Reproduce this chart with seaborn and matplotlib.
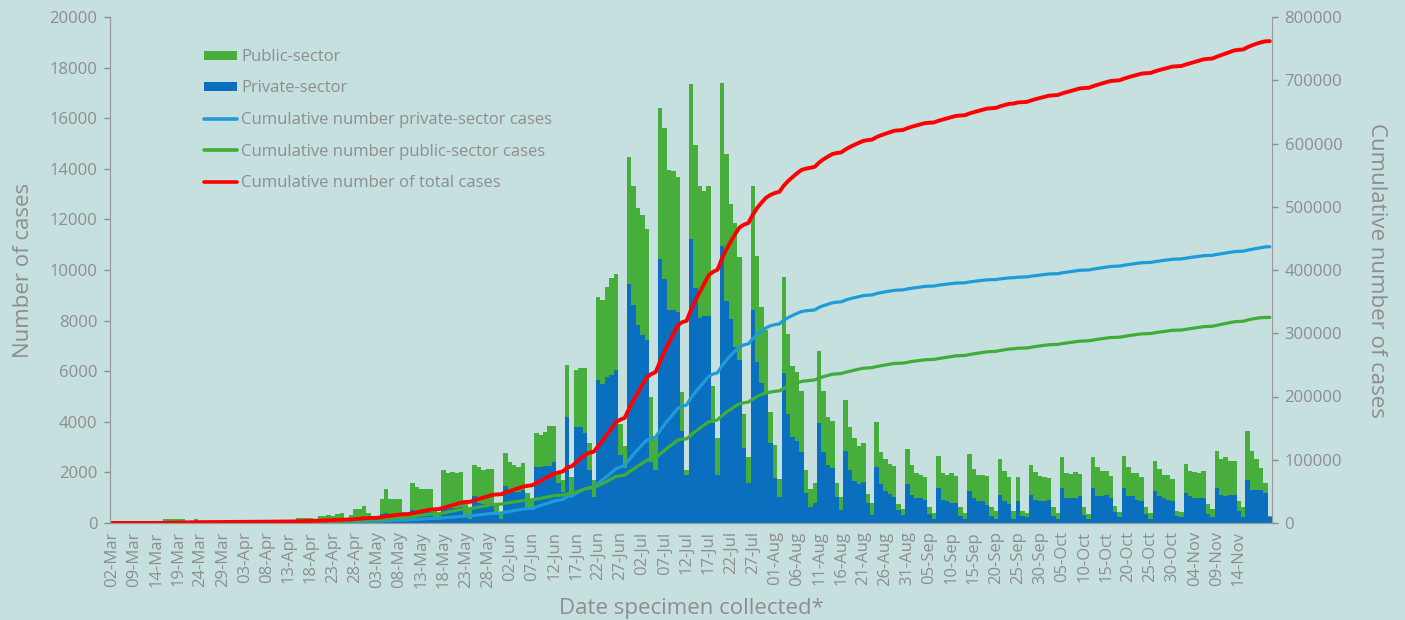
import numpy as np
import pandas as pd
import matplotlib.pyplot as plt
import seaborn as sns
from matplotlib.patches import Patch
from matplotlib.lines import Line2D
from datetime import date, timedelta

# specimen dates: 02-Mar, then a continuous run from 05-Mar
days = [date(2020, 3, 2)] + [date(2020, 3, 5) + timedelta(days=i) for i in range(262)]
date_labels = [d.strftime('%d-%b') for d in days]

# daily cases, private sector
private = [
    0, 0, 1, 1, 2, 3, 4,
    5, 8, 10, 12, 15, 60, 60,
    60, 60, 55, 30, 30, 60, 30,
    30, 10, 10, 8, 10, 30, 25,
    15, 20, 20, 20, 10, 15, 20,
    25, 25, 20, 25, 15, 20, 30,
    80, 85, 80, 75, 40, 100, 100,
    110, 100, 120, 100, 50, 80, 150,
    150, 200, 120, 60, 50, 350, 400,
    350, 350, 360, 150, 100, 500, 480,
    450, 450, 450, 200, 120, 650, 600,
    600, 600, 650, 300, 150, 1080, 800,
    750, 750, 800, 300, 150, 1470, 1240,
    1240, 1240, 1300, 600, 500, 2230, 2200,
    2260, 2260, 2420, 1600, 1230, 4170, 1200,
    3780, 3780, 3550, 2080, 1020, 5650, 5480,
    5780, 5840, 6040, 2700, 2170, 9450, 8600,
    7840, 7450, 7250, 2400, 2100, 10440, 9650,
    8420, 8400, 8350, 3650, 1900, 11230, 9300,
    8120, 8180, 8180, 3940, 1900, 10960, 8790,
    8070, 6970, 6450, 2950, 1570, 8420, 6380,
    5520, 5190, 3150, 1770, 1040, 5920, 4300,
    3380, 3250, 2790, 1190, 620, 800, 3970,
    2790, 2300, 2170, 1020, 510, 2850, 2100,
    1670, 1540, 1640, 780, 320, 2200, 1540,
    1270, 1140, 1040, 510, 320, 1560, 1120,
    980, 980, 900, 360, 150, 1380, 900,
    850, 790, 790, 290, 150, 1250, 980,
    850, 850, 720, 280, 150, 1120, 850,
    770, 150, 850, 280, 220, 1120, 900,
    850, 850, 900, 280, 150, 1380, 980,
    980, 980, 1050, 320, 150, 1380, 1050,
    1050, 1120, 980, 420, 220, 1380, 1050,
    1050, 900, 850, 360, 150, 1250, 1050,
    980, 900, 850, 280, 220, 1180, 1050,
    980, 980, 980, 360, 220, 1380, 1120,
    1050, 1120, 1120, 490, 220, 1710, 1310,
    1310, 1310, 1180, 220,
]

# daily cases, public sector
public = [
    0, 0, 1, 2, 3, 4, 6,
    7, 12, 15, 18, 25, 100, 100,
    105, 100, 95, 50, 50, 100, 50,
    50, 20, 20, 12, 20, 50, 45,
    25, 30, 40, 30, 20, 25, 40,
    35, 45, 40, 45, 25, 30, 50,
    120, 125, 120, 115, 60, 190, 180,
    190, 190, 240, 280, 100, 220, 400,
    400, 480, 280, 140, 100, 580, 930,
    580, 580, 590, 300, 200, 1070, 960,
    900, 910, 910, 400, 230, 1430, 1380,
    1400, 1380, 1370, 600, 350, 1210, 1430,
    1330, 1380, 1340, 400, 250, 1290, 1180,
    1050, 990, 1060, 580, 400, 1320, 1280,
    1340, 1570, 1410, 370, 450, 2080, 600,
    2270, 2340, 2570, 1100, 680, 3270, 3340,
    3560, 3830, 3790, 1200, 880, 5010, 4720,
    4600, 4730, 4360, 2590, 1320, 5960, 5960,
    5530, 5530, 5320, 1520, 200, 6130, 5640,
    5210, 4940, 5140, 1490, 1450, 6440, 5800,
    4540, 4880, 4060, 1360, 1050, 4900, 4190,
    3010, 2440, 1250, 1310, 700, 3810, 3160,
    2810, 2700, 2410, 910, 710, 790, 2830,
    2410, 1900, 1850, 550, 500, 2000, 1700,
    1690, 1520, 1540, 370, 490, 1810, 1250,
    1250, 1190, 1230, 240, 220, 1360, 1190,
    990, 920, 900, 260, 260, 1280, 1070,
    1050, 1180, 1050, 330, 260, 1470, 1150,
    1050, 1050, 1120, 340, 340, 1410, 1190,
    1030, 340, 950, 210, 190, 1180, 1130,
    990, 950, 870, 340, 260, 1210, 990,
    950, 1050, 880, 300, 210, 1210, 1150,
    1010, 950, 880, 260, 200, 1280, 1150,
    920, 1070, 950, 260, 260, 1210, 1080,
    920, 1000, 880, 210, 200, 1150, 1010,
    1050, 1010, 1080, 400, 330, 1480, 1410,
    1540, 1340, 1340, 390, 400, 1940, 1540,
    1210, 880, 400, 70,
]

df = pd.DataFrame({'date': date_labels, 'private': private, 'public': public})
df['total'] = df['private'] + df['public']
df['cum_private'] = df['private'].cumsum()
df['cum_public'] = df['public'].cumsum()
df['cum_total'] = df['total'].cumsum()
df['pos'] = np.arange(len(df))

GREEN = '#47ae3c'
BLUE = '#0a6fbf'
LBLUE = '#1f9bd7'
LGREEN = '#3fad37'
RED = '#ff0000'
GREY = '#8e8e8e'
BG = '#c6dfdf'

sns.set_style('ticks')
plt.rcParams['font.family'] = ['Open Sans', 'DejaVu Sans']

fig = plt.figure(figsize=(14.05, 6.2), dpi=100, facecolor=BG)
ax = fig.add_axes([110 / 1405, 1 - 523 / 620, 1162 / 1405, 506 / 620])
ax.set_facecolor('none')

# stacked bars: total in green, private drawn over it in blue
sns.barplot(data=df, x='date', y='total', color=GREEN, width=1.0, linewidth=0,
            saturation=1, order=date_labels, ax=ax)
sns.barplot(data=df, x='date', y='private', color=BLUE, width=1.0, linewidth=0,
            saturation=1, order=date_labels, ax=ax)

ax.set_xlim(-0.5, len(df) - 0.5)
ax.set_ylim(0, 20000)
ax.set_yticks(range(0, 20001, 2000))
ticks = list(range(0, 256, 5))
ax.set_xticks(ticks)
ax.set_xticklabels([date_labels[i] for i in ticks], rotation=90)
ax.set_xlabel('Date specimen collected*', fontsize=16, color=GREY, labelpad=7)
ax.set_ylabel('Number of cases', fontsize=16, color=GREY, labelpad=11)

ax2 = ax.twinx()
ax2.set_facecolor('none')
sns.lineplot(data=df, x='pos', y='cum_private', color=LBLUE, linewidth=2.3, ax=ax2)
sns.lineplot(data=df, x='pos', y='cum_public', color=LGREEN, linewidth=2.3, ax=ax2)
sns.lineplot(data=df, x='pos', y='cum_total', color=RED, linewidth=2.8, ax=ax2)
ax2.set_ylim(0, 800000)
ax2.set_yticks(range(0, 800001, 100000))
ax2.set_xlim(-0.5, len(df) - 0.5)
ax2.set_xlabel('')
ax2.set_ylabel('Cumulative number of cases', fontsize=16, color=GREY,
               rotation=270, labelpad=32)

for a in (ax, ax2):
    a.tick_params(axis='both', colors=GREY, labelsize=12, length=4, width=1, pad=5)
    for s in a.spines.values():
        s.set_color('#9a9a9a')
    a.spines['top'].set_visible(False)
ax.tick_params(axis='x', length=0, pad=6)
ax.spines['right'].set_visible(False)

handles = [
    Patch(facecolor=GREEN, edgecolor='none'),
    Patch(facecolor=BLUE, edgecolor='none'),
    Line2D([], [], color=LBLUE, linewidth=2.6),
    Line2D([], [], color=LGREEN, linewidth=2.6),
    Line2D([], [], color=RED, linewidth=2.6),
]
names = ['Public-sector', 'Private-sector', 'Cumulative number private-sector cases',
         'Cumulative number public-sector cases', 'Cumulative number of total cases']
leg = fig.legend(handles, names, loc='upper left', bbox_to_anchor=(204 / 1405, 1 - 49 / 620),
                 frameon=False, fontsize=12, handlelength=2.0, handleheight=0.45,
                 handletextpad=0.25, labelspacing=0.93, borderpad=0, borderaxespad=0)
for t in leg.get_texts():
    t.set_color(GREY)

fig.savefig('out.png', dpi=100, facecolor=BG)
